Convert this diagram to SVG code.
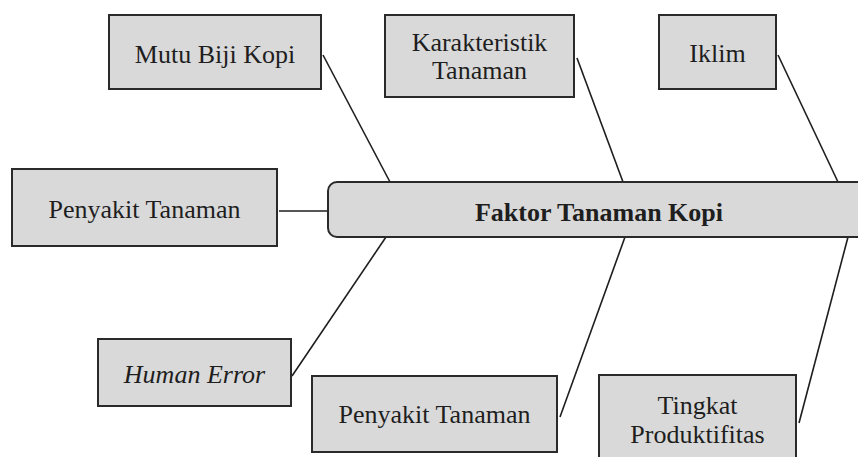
<svg xmlns="http://www.w3.org/2000/svg" width="858" height="457" viewBox="0 0 858 457">
<rect width="858" height="457" fill="#ffffff"/>
<g id="connectors" stroke="#1e1e1e" stroke-width="1.6" fill="none">
<line x1="323" y1="55" x2="390" y2="182"/>
<line x1="577" y1="58" x2="623" y2="182"/>
<line x1="778" y1="55" x2="838" y2="182"/>
<line x1="279" y1="211" x2="328" y2="211"/>
<line x1="292" y1="376" x2="386" y2="237"/>
<line x1="560" y1="417" x2="625" y2="237"/>
<line x1="799" y1="423" x2="848" y2="237"/>
</g>
<g id="main">
<rect x="328" y="182" width="560" height="55" rx="9" fill="#d9d9d9" stroke="#2a2a2a" stroke-width="2"/>
<text x="599" y="221" font-family="Liberation Serif" font-size="26" font-weight="bold" fill="#1e1e1e" text-anchor="middle">Faktor Tanaman Kopi</text>
</g>
<g id="mutu">
<rect x="109" y="15" width="212" height="74" fill="#d9d9d9" stroke="#2a2a2a" stroke-width="2"/>
<text x="215" y="63" font-family="Liberation Serif" font-size="26" fill="#1e1e1e" text-anchor="middle">Mutu Biji Kopi</text>
</g>
<g id="karakteristik">
<rect x="385" y="15" width="189" height="82" fill="#d9d9d9" stroke="#2a2a2a" stroke-width="2"/>
<text x="479.5" y="51" font-family="Liberation Serif" font-size="26" fill="#1e1e1e" text-anchor="middle">Karakteristik</text>
<text x="479.5" y="79" font-family="Liberation Serif" font-size="26" fill="#1e1e1e" text-anchor="middle">Tanaman</text>
</g>
<g id="iklim">
<rect x="659" y="15" width="117" height="74" fill="#d9d9d9" stroke="#2a2a2a" stroke-width="2"/>
<text x="717.5" y="62" font-family="Liberation Serif" font-size="26" fill="#1e1e1e" text-anchor="middle">Iklim</text>
</g>
<g id="penyakit1">
<rect x="12" y="169" width="265" height="77" fill="#d9d9d9" stroke="#2a2a2a" stroke-width="2"/>
<text x="144.5" y="218" font-family="Liberation Serif" font-size="26" fill="#1e1e1e" text-anchor="middle">Penyakit Tanaman</text>
</g>
<g id="human">
<rect x="98" y="339" width="193" height="67" fill="#d9d9d9" stroke="#2a2a2a" stroke-width="2"/>
<text x="194.5" y="383" font-family="Liberation Serif" font-size="26" font-style="italic" fill="#1e1e1e" text-anchor="middle">Human Error</text>
</g>
<g id="penyakit2">
<rect x="312" y="376" width="245" height="76" fill="#d9d9d9" stroke="#2a2a2a" stroke-width="2"/>
<text x="434.5" y="423" font-family="Liberation Serif" font-size="26" fill="#1e1e1e" text-anchor="middle">Penyakit Tanaman</text>
</g>
<g id="tingkat">
<rect x="599" y="375" width="197" height="100" fill="#d9d9d9" stroke="#2a2a2a" stroke-width="2"/>
<text x="697.5" y="414" font-family="Liberation Serif" font-size="26" fill="#1e1e1e" text-anchor="middle">Tingkat</text>
<text x="697.5" y="443" font-family="Liberation Serif" font-size="26" fill="#1e1e1e" text-anchor="middle">Produktifitas</text>
</g>
</svg>
